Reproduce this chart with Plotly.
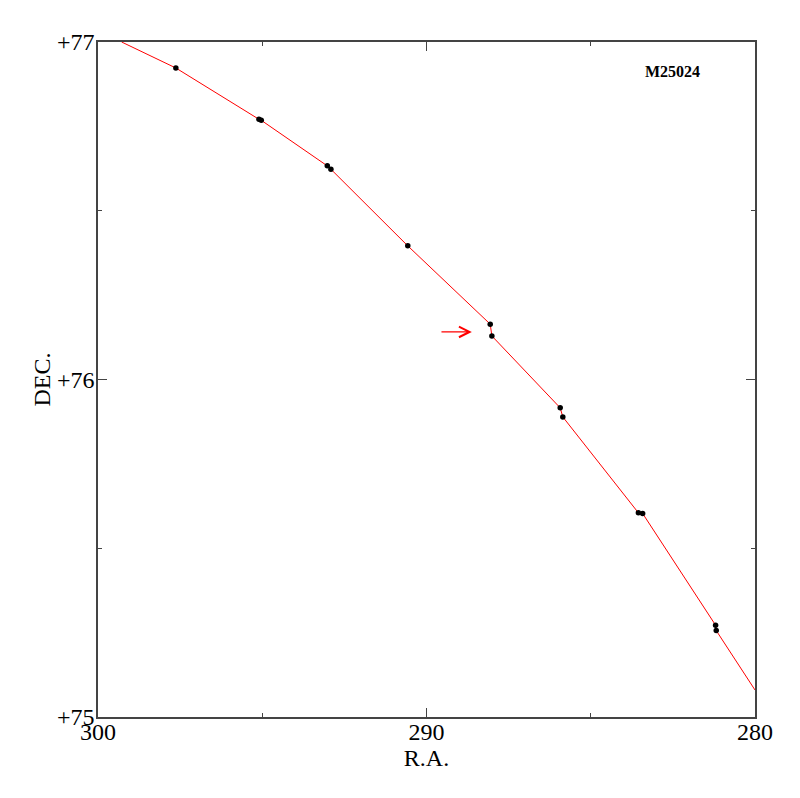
"""Ephemeris track of M25024 with observed positions."""

import plotly.graph_objects as go

OBS_RA = [297.63, 295.10, 295.03, 293.02, 292.91, 290.57,
          288.06, 288.01, 285.93, 285.85, 283.55, 283.42, 281.20, 281.18]
OBS_DEC = [76.923, 76.771, 76.768, 76.633, 76.623, 76.396,
           76.164, 76.129, 75.916, 75.889, 75.605, 75.603, 75.272, 75.256]

# predicted track ends beyond the first and last observation
TRACK_START = (299.28, 77.0)
TRACK_END = (280.0, 75.08)

X_TICKS = [300, 290, 280]
X_LABELS = ["300", "290", "280"]
X_MINOR = [295, 285]
Y_TICKS = [75, 76, 77]
Y_LABELS = ["+75", "+76", "+77"]
Y_MINOR = [75.5, 76.5]

OBJECT_NAME = "M25024"
# arrow pointing at the discordant pair
ARROW_TAIL = (289.59, 76.141)
ARROW_HEAD = (288.62, 76.141)

FONT = "Liberation Serif, Times New Roman, serif"
FRAME = "#444444"

track_ra = [TRACK_START[0]] + OBS_RA + [TRACK_END[0]]
track_dec = [TRACK_START[1]] + OBS_DEC + [TRACK_END[1]]

fig = go.Figure()
fig.add_trace(
    go.Scatter(
        x=track_ra,
        y=track_dec,
        mode="lines",
        line={"color": "#ff0000", "width": 1},
        showlegend=False,
        hoverinfo="skip",
    )
)
fig.add_trace(
    go.Scatter(
        x=OBS_RA,
        y=OBS_DEC,
        mode="markers",
        marker={"color": "black", "size": 5.5},
        showlegend=False,
    )
)

fig.add_annotation(
    x=ARROW_HEAD[0], y=ARROW_HEAD[1],
    ax=ARROW_TAIL[0], ay=ARROW_TAIL[1],
    xref="x", yref="y", axref="x", ayref="y",
    text="", showarrow=True,
    arrowhead=5, arrowsize=1.6, arrowwidth=1.3, arrowcolor="#ff0000",
)
fig.add_annotation(
    x=0.875, y=0.956, xref="paper", yref="paper",
    xanchor="center", yanchor="middle",
    text=f"<b>{OBJECT_NAME}</b>", showarrow=False,
    font={"family": FONT, "size": 16, "color": "black"},
)

axis_common = dict(
    showgrid=False,
    zeroline=False,
    showline=True,
    linecolor=FRAME,
    linewidth=1.5,
    mirror="ticks",
    ticks="inside",
    ticklen=9,
    tickcolor=FRAME,
    tickfont={"family": FONT, "size": 24, "color": "black"},
)

fig.update_xaxes(
    **axis_common,
    range=[300, 280],
    tickmode="array",
    tickvals=X_TICKS,
    ticktext=X_LABELS,
    ticklabelstandoff=-8,
    minor={"tickvals": X_MINOR, "ticks": "inside", "ticklen": 4, "tickcolor": FRAME},
    title={"text": "R.A.", "font": {"family": FONT, "size": 24, "color": "black"}, "standoff": 0},
)
fig.update_yaxes(
    **axis_common,
    range=[75, 77],
    tickmode="array",
    tickvals=Y_TICKS,
    ticktext=Y_LABELS,
    ticklabelstandoff=-3,
    minor={"tickvals": Y_MINOR, "ticks": "inside", "ticklen": 4, "tickcolor": FRAME},
    title={"text": "DEC.", "font": {"family": FONT, "size": 24, "color": "black"}, "standoff": 0},
)

fig.update_layout(
    width=800,
    height=798,
    margin={"l": 90, "r": 53, "t": 34, "b": 89},
    paper_bgcolor="white",
    plot_bgcolor="white",
)

fig.write_html("out.html")
